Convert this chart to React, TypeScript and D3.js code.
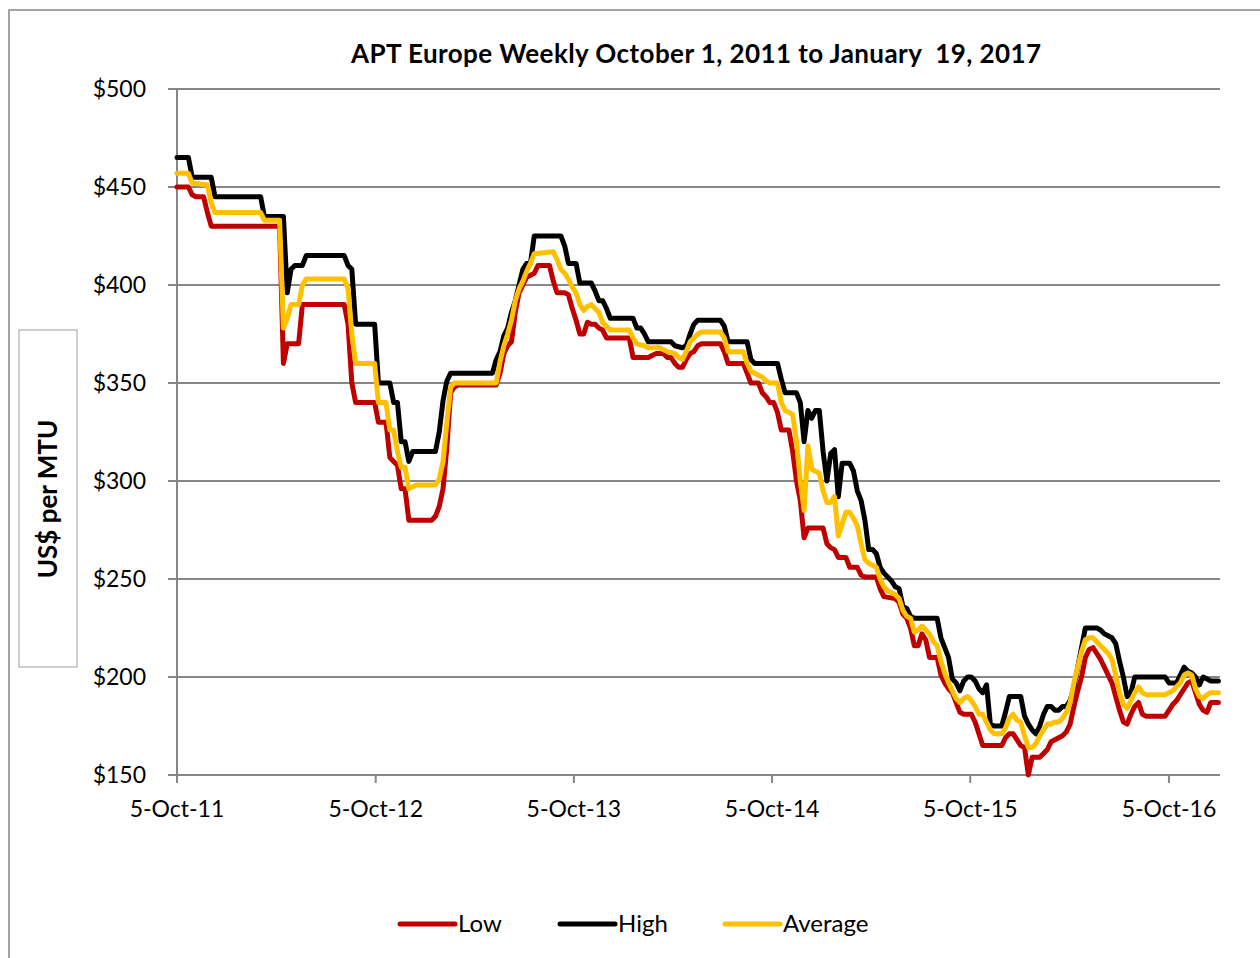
import * as d3 from 'd3';

// weekly index (weeks since 5-Oct-2011) and US$ per MTU
const lowSeries: [number, number][] = [
  [0, 450], [3, 450], [4, 446], [5, 445], [7, 445], [8, 437], [9, 430], [27, 430], [28, 360], [29, 370],
  [32, 370], [33, 390], [44, 390], [45, 380], [46, 350], [47, 340], [52, 340], [53, 330], [55, 330], [56, 312],
  [57, 310], [58, 308], [59, 296], [60, 296], [61, 280], [67, 280], [68, 282], [69, 287], [70, 296], [71, 317],
  [72, 345], [73, 348], [74, 349], [84, 349], [85, 355], [86, 365], [87, 369], [88, 371], [89, 386], [90, 396],
  [91, 400], [92, 404], [93, 405], [94, 406], [95, 410], [98, 410], [99, 402], [100, 396], [102, 396], [103, 395],
  [104, 388], [105, 382], [106, 375], [107, 375], [108, 381], [109, 380], [110, 380], [111, 378], [112, 377], [113, 373],
  [119, 373], [120, 363], [124, 363], [125, 364], [126, 365], [128, 365], [129, 363], [130, 363], [131, 360], [132, 358],
  [133, 358], [134, 362], [135, 365], [136, 366], [137, 369], [138, 370], [143, 370], [144, 366], [145, 360], [149, 360],
  [150, 355], [151, 350], [153, 350], [154, 345], [155, 343], [156, 340], [157, 340], [158, 335], [159, 326], [161, 326],
  [162, 315], [163, 300], [164, 290], [165, 271], [166, 276], [170, 276], [171, 268], [172, 266], [173, 265], [174, 261],
  [176, 261], [177, 256], [179, 256], [180, 252], [181, 251], [184, 251], [185, 245], [186, 241], [189, 240], [190, 238],
  [191, 232], [192, 230], [193, 225], [194, 216], [195, 216], [196, 222], [197, 219], [198, 210], [200, 210], [201, 201],
  [202, 197], [203, 194], [204, 192], [205, 187], [206, 182], [207, 181], [209, 181], [210, 177], [211, 171], [212, 165],
  [217, 165], [218, 169], [219, 171], [220, 171], [221, 168], [222, 165], [223, 164], [224, 150], [225, 159], [227, 159],
  [228, 161], [229, 163], [230, 167], [231, 168], [232, 169], [233, 170], [234, 172], [235, 176], [236, 185], [237, 193],
  [238, 200], [239, 210], [240, 214], [241, 215], [242, 212], [243, 209], [244, 205], [245, 201], [246, 197], [247, 190],
  [248, 183], [249, 177], [250, 176], [251, 181], [252, 185], [253, 187], [254, 181], [255, 180], [260, 180], [261, 183],
  [262, 186], [263, 188], [264, 191], [265, 194], [266, 197], [267, 198], [268, 192], [269, 186], [270, 183], [271, 182],
  [272, 187], [274, 187],
];

const highSeries: [number, number][] = [
  [0, 465], [3, 465], [4, 455], [9, 455], [10, 445], [22, 445], [23, 435], [28, 435], [29, 396], [30, 408],
  [31, 410], [33, 410], [34, 415], [44, 415], [45, 410], [46, 408], [47, 380], [52, 380], [53, 350], [56, 350],
  [57, 340], [58, 340], [59, 320], [60, 320], [61, 310], [62, 315], [68, 315], [69, 325], [70, 341], [71, 351],
  [72, 355], [83, 355], [84, 362], [85, 366], [86, 374], [87, 378], [88, 386], [89, 392], [90, 400], [91, 408],
  [92, 411], [93, 411], [94, 425], [101, 425], [102, 420], [103, 411], [105, 411], [106, 401], [109, 401], [110, 397],
  [111, 392], [112, 392], [113, 388], [114, 383], [120, 383], [121, 378], [122, 378], [123, 375], [124, 371], [130, 371],
  [131, 369], [133, 368], [134, 369], [135, 375], [136, 380], [137, 382], [143, 382], [144, 379], [145, 371], [150, 371],
  [151, 362], [152, 360], [158, 360], [159, 352], [160, 345], [163, 345], [164, 340], [165, 320], [166, 336], [167, 332],
  [168, 336], [169, 336], [170, 315], [171, 300], [172, 314], [173, 316], [174, 292], [175, 309], [177, 309], [178, 305],
  [179, 295], [180, 290], [181, 280], [182, 265], [183, 265], [184, 263], [185, 256], [186, 253], [187, 251], [188, 249],
  [189, 246], [190, 245], [191, 236], [192, 235], [193, 231], [194, 230], [200, 230], [201, 220], [202, 215], [203, 210],
  [204, 199], [205, 197], [206, 193], [207, 198], [208, 200], [209, 200], [210, 198], [211, 194], [212, 192], [213, 196],
  [214, 176], [215, 175], [217, 175], [218, 182], [219, 190], [222, 190], [223, 180], [224, 176], [225, 173], [226, 171],
  [227, 175], [228, 181], [229, 185], [230, 185], [231, 183], [232, 183], [233, 185], [234, 185], [235, 188], [236, 195],
  [237, 205], [238, 215], [239, 225], [242, 225], [243, 224], [244, 222], [245, 221], [246, 220], [247, 217], [248, 208],
  [249, 200], [250, 190], [251, 192], [252, 200], [260, 200], [261, 197], [263, 197], [264, 201], [265, 205], [266, 203],
  [267, 202], [268, 200], [269, 196], [270, 200], [271, 199], [272, 198], [274, 198],
];

const averageSeries: [number, number][] = [
  [0, 457], [3, 457], [4, 452], [8, 451], [9, 442], [10, 437], [22, 437], [23, 433], [27, 433], [28, 378],
  [29, 383], [30, 390], [32, 390], [33, 400], [34, 403], [44, 403], [45, 398], [46, 375], [47, 360], [52, 360],
  [53, 340], [55, 340], [56, 326], [57, 326], [58, 315], [59, 307], [60, 307], [61, 296], [62, 297], [63, 298],
  [68, 298], [69, 301], [70, 310], [71, 330], [72, 348], [73, 350], [84, 350], [85, 361], [86, 369], [87, 375],
  [88, 382], [89, 392], [90, 398], [91, 402], [92, 407], [93, 411], [94, 416], [99, 417], [100, 413], [101, 408],
  [102, 406], [103, 403], [104, 399], [105, 396], [106, 390], [107, 387], [108, 389], [109, 390], [110, 388], [111, 386],
  [112, 381], [113, 379], [114, 377], [119, 377], [120, 373], [121, 370], [123, 369], [124, 368], [127, 368], [128, 367],
  [129, 366], [131, 365], [132, 363], [133, 362], [134, 366], [135, 371], [136, 373], [137, 375], [138, 376], [143, 376],
  [144, 373], [145, 366], [149, 366], [150, 360], [151, 356], [152, 355], [153, 354], [154, 353], [155, 351], [156, 350],
  [158, 350], [159, 340], [160, 336], [161, 335], [162, 334], [163, 320], [164, 300], [165, 285], [166, 318], [167, 306],
  [168, 305], [169, 304], [170, 295], [171, 289], [172, 289], [173, 292], [174, 272], [175, 278], [176, 284], [177, 284],
  [178, 281], [179, 277], [180, 268], [181, 260], [182, 258], [183, 257], [184, 256], [185, 250], [186, 246], [187, 244],
  [188, 243], [189, 242], [190, 240], [191, 234], [192, 231], [193, 230], [194, 223], [195, 224], [196, 226], [197, 224],
  [198, 222], [199, 218], [200, 216], [201, 208], [202, 202], [203, 197], [204, 193], [205, 189], [206, 187], [207, 189],
  [208, 190], [209, 188], [210, 185], [211, 181], [212, 181], [213, 177], [214, 173], [215, 171], [217, 171], [218, 174],
  [219, 179], [220, 181], [221, 178], [222, 177], [223, 170], [224, 164], [225, 164], [226, 166], [227, 170], [228, 173],
  [229, 176], [230, 176], [231, 177], [232, 177], [233, 179], [234, 182], [235, 187], [236, 197], [237, 205], [238, 213],
  [239, 219], [240, 220], [241, 220], [242, 218], [243, 216], [244, 214], [245, 212], [246, 209], [247, 201], [248, 192],
  [249, 186], [250, 184], [251, 188], [252, 192], [253, 195], [254, 192], [255, 191], [260, 191], [261, 192], [262, 193],
  [263, 195], [264, 197], [265, 201], [266, 202], [267, 201], [268, 194], [269, 190], [270, 189], [271, 191], [272, 192],
  [274, 192],
];

const yTicks = [150, 200, 250, 300, 350, 400, 450, 500];
const xTickYears = [2011, 2012, 2013, 2014, 2015, 2016];
const chartTitle = 'APT Europe Weekly October 1, 2011 to January  19, 2017';

const FONT = "Lato, 'Open Sans', sans-serif";
const GRID = '#868686';

const series = [
  { name: 'Low', data: lowSeries, color: '#C00000' },
  { name: 'High', data: highSeries, color: '#000000' },
  { name: 'Average', data: averageSeries, color: '#FFC000' },
];

export default function App() {
  const width = 1260;
  const height = 958;
  const plot = { left: 177, right: 1220, top: 89, bottom: 775 };

  const start = new Date(2011, 9, 5);
  const weekDate = (w: number) => d3.timeDay.offset(start, w * 7);

  const x = d3.scaleTime()
    .domain([start, new Date(2017, 0, 7)])
    .range([plot.left, plot.right]);
  const y = d3.scaleLinear()
    .domain([150, 500])
    .range([plot.bottom, plot.top]);

  const line = d3.line<[number, number]>()
    .x(d => x(weekDate(d[0])))
    .y(d => y(d[1]));

  const fmt = d3.timeFormat('%-d-%b-%y');
  const xTicks = xTickYears.map(yr => new Date(yr, 9, 5));

  const legendItems = [
    { ...series[0], x: 400 },
    { ...series[1], x: 560 },
    { ...series[2], x: 725 },
  ];

  return (
    <svg width={width} height={height} style={{ position: 'absolute', left: 0, top: 0, background: '#fff' }}
      fontFamily={FONT}>
      <rect x={0} y={0} width={width} height={height} fill="#fff" />
      {/* chart area border */}
      <rect x={9} y={10} width={1300} height={1000} fill="none" stroke={GRID} strokeWidth={1.5} />

      <text x={696} y={63} textAnchor="middle" fontSize={26} fontWeight="bold" textLength={690}
        lengthAdjust="spacing" style={{ whiteSpace: 'pre' }}>
        {chartTitle}
      </text>

      {/* gridlines and y ticks */}
      {yTicks.map(t => (
        <g key={t}>
          <line x1={plot.left - 9} x2={plot.right} y1={y(t)} y2={y(t)} stroke={GRID} strokeWidth={2} />
          <text x={146} y={y(t)} dy="0.35em" textAnchor="end" fontSize={23}>{`$${t}`}</text>
        </g>
      ))}
      <line x1={plot.left} x2={plot.left} y1={plot.top} y2={plot.bottom} stroke={GRID} strokeWidth={2} />

      {/* x axis ticks */}
      {xTicks.map(d => (
        <g key={d.getTime()}>
          <line x1={x(d)} x2={x(d)} y1={plot.bottom} y2={plot.bottom + 8} stroke={GRID} strokeWidth={2} />
          <text x={x(d)} y={817} textAnchor="middle" fontSize={23}>{fmt(d)}</text>
        </g>
      ))}

      {/* y axis title box */}
      <rect x={19} y={330} width={58} height={337} fill="#fff" stroke="#BFBFBF" strokeWidth={1.5} />
      <text transform="translate(57,499) rotate(-90)" textAnchor="middle" fontSize={26} fontWeight="bold">
        US$ per MTU
      </text>

      {series.map(s => (
        <path key={s.name} d={line(s.data) || ''} fill="none" stroke={s.color} strokeWidth={5}
          strokeLinejoin="round" strokeLinecap="round" />
      ))}

      {legendItems.map(s => (
        <g key={s.name}>
          <line x1={s.x} x2={s.x + 55} y1={924} y2={924} stroke={s.color} strokeWidth={5} strokeLinecap="round" />
          <text x={s.x + 58} y={924} dy="0.35em" fontSize={24}>{s.name}</text>
        </g>
      ))}
    </svg>
  );
}
